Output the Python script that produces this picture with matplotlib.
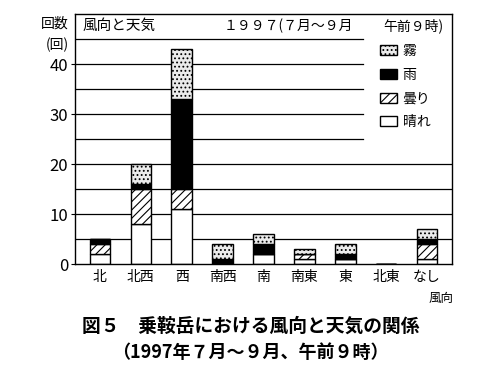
import matplotlib
matplotlib.use('Agg')
import numpy as np
import matplotlib.pyplot as plt
from matplotlib.patches import Patch

plt.rcParams['font.family'] = ['Noto Sans CJK JP', 'DejaVu Sans']
plt.rcParams['hatch.linewidth'] = 0.8

directions = ['北', '北西', '西', '南西', '南', '南東', '東', '北東', 'なし']
sunny = [2, 8, 11, 0, 2, 1, 1, 0, 1]      # 晴れ
cloudy = [2, 7, 4, 0, 0, 1, 0, 0, 3]      # 曇り
rain = [1, 1, 18, 1, 2, 0, 1, 0, 1]       # 雨
fog = [0, 4, 10, 3, 2, 1, 2, 0, 2]        # 霧
yticks = [0, 10, 20, 30, 40]
grid_levels = [5, 10, 15, 20, 25, 30, 35, 40]

fig = plt.figure(figsize=(5.01, 3.86), dpi=100)
ax = fig.add_axes([0.1497, 0.316, 0.7525, 0.6477])

x = np.arange(len(directions))
w = 0.5

# horizontal grid lines, upper ones stop at the legend area
for lv in grid_levels:
    xmax = 1.0 if lv <= 20 else 0.764
    ax.axhline(lv, xmin=0, xmax=xmax, color='black', lw=0.9, zorder=1)
ax.axhline(45, xmin=0, xmax=0.764, color='black', lw=0.9, zorder=1)

b0 = np.zeros(len(x))
ax.bar(x, sunny, w, bottom=b0, facecolor='white', edgecolor='black', lw=1, zorder=2)
b1 = b0 + np.array(sunny)
ax.bar(x, cloudy, w, bottom=b1, facecolor='white', edgecolor='black', hatch='////', lw=1, zorder=2)
b2 = b1 + np.array(cloudy)
ax.bar(x, rain, w, bottom=b2, facecolor='black', edgecolor='black', lw=1, zorder=2)
b3 = b2 + np.array(rain)
ax.bar(x, fog, w, bottom=b3, facecolor='#ebebeb', edgecolor='black', hatch='....', lw=1, zorder=2)

ax.set_xlim(-0.61, 8.61)
ax.set_ylim(0, 50)
ax.set_xticks(x)
ax.set_xticklabels(directions, fontsize=10)
ax.set_yticks(yticks)
ax.tick_params(axis='x', length=0, pad=4)
ax.tick_params(axis='y', length=3, labelsize=12, pad=2)
for s in ax.spines.values():
    s.set_linewidth(1)

ax.text(0.02, 0.952, '風向と天気', fontsize=10.5, va='center', transform=ax.transAxes)
ax.text(0.393, 0.952, '１９９７(７月～９月', fontsize=10, va='center', transform=ax.transAxes)
ax.text(0.817, 0.952, '午前９時)', fontsize=10, va='center', transform=ax.transAxes)

handles = [
    Patch(facecolor='#ebebeb', edgecolor='black', hatch='....', label='霧'),
    Patch(facecolor='black', edgecolor='black', label='雨'),
    Patch(facecolor='white', edgecolor='black', hatch='////', label='曇り'),
    Patch(facecolor='white', edgecolor='black', label='晴れ'),
]
ax.legend(handles=handles, loc='upper left', bbox_to_anchor=(0.81, 0.88), frameon=False,
          fontsize=10, handlelength=1.2, handleheight=0.75, handletextpad=0.4,
          labelspacing=0.7, borderpad=0, borderaxespad=0)

fig.text(0.137, 0.938, '回数', fontsize=10, ha='right', va='center')
fig.text(0.137, 0.883, '(回)', fontsize=10, ha='right', va='center')
fig.text(0.88, 0.228, '風向', fontsize=9, ha='center', va='center')

fig.text(0.5, 0.155, '図５　乗鞍岳における風向と天気の関係', fontsize=13.5,
         fontweight='bold', ha='center', va='center')
fig.text(0.5, 0.088, '（1997年７月～９月、午前９時）', fontsize=13,
         fontweight='bold', ha='center', va='center')

fig.savefig('out.png', dpi=100)
